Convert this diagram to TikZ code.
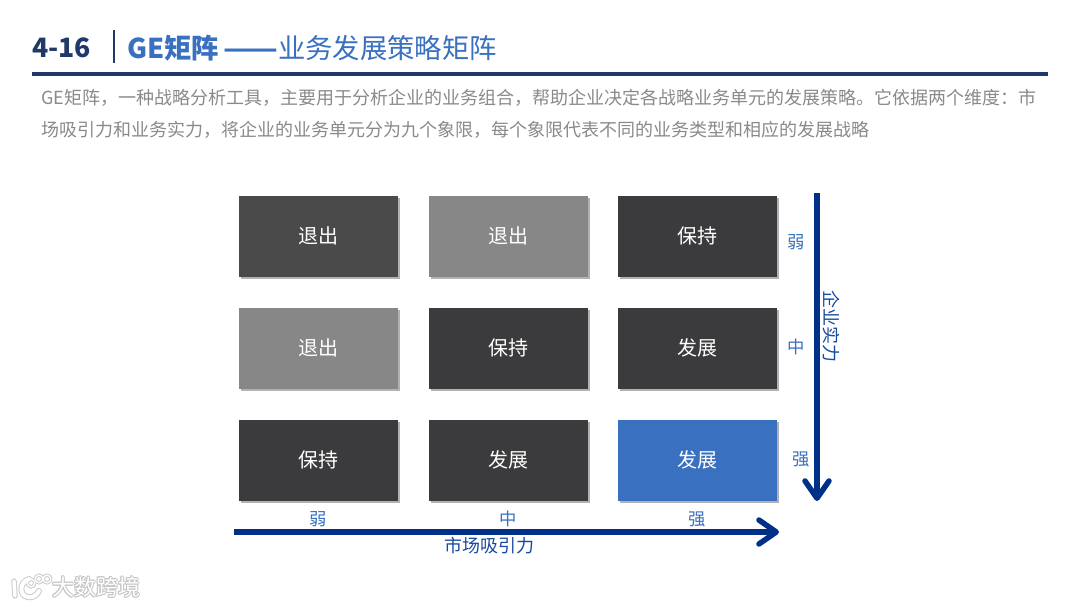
\documentclass[tikz,border=0pt]{standalone}
\usepackage{fontspec}
\setmainfont{Noto Sans CJK SC}
\usetikzlibrary{arrows.meta,shadows}
\definecolor{navy}{HTML}{1F3A68}
\definecolor{accent}{HTML}{3A70C0}
\definecolor{arrowblue}{HTML}{003087}
\definecolor{darkbox}{HTML}{3B3B3D}
\definecolor{midbox}{HTML}{4A4A4A}
\definecolor{greybox}{HTML}{878787}
\definecolor{bodygrey}{HTML}{8A8A8A}
\tikzset{
  cell/.style={minimum width=119.25pt,minimum height=60.75pt,inner sep=0pt,text=white,text height=12pt,text depth=1.7pt,font=\fontsize{15}{15}\selectfont,
     drop shadow={shadow xshift=1.3pt,shadow yshift=-1.3pt,fill=black,opacity=0.3}},
  tick/.style={text=accent,inner sep=0pt,font=\fontsize{13}{13}\selectfont},
  axislabel/.style={tick,text=arrowblue!60!accent,font=\fontsize{13.5}{13.5}\selectfont},
  axis/.style={draw=arrowblue,line width=4.1pt,-{Straight Barb[length=13pt,width=18pt,line width=4.1pt,round]}},
  intro/.style={anchor=west,inner sep=0pt,text=bodygrey,font=\fontsize{13.5}{13.5}\selectfont},
  wm/.style={inner sep=0pt,anchor=west,text=white,font=\fontsize{16.5}{16.5}\selectfont}
}
\begin{document}
\begin{tikzpicture}[x=0.75pt,y=-0.75pt]
\useasboundingbox (0,0) rectangle (1080,607);
\fill[white] (0,0) rectangle (1080,607);
% header
\node[inner sep=0pt,anchor=west,text=navy,font=\fontsize{20}{20}\selectfont\bfseries] (num) at (32,48) {4-16};
\coordinate (sepT) at (114,30); \coordinate (sepB) at (114,63);
\draw[navy,line width=2pt] (sepT) -- (sepB);
\node[inner sep=0pt,anchor=west,text=accent,font=\fontsize{20.5}{20.5}\selectfont] (title) at (127,48) {\textbf{GE矩阵}\hspace{3pt}\scalebox{1.17}[1]{\textbf{——}}业务发展策略矩阵};
\coordinate (ruleL) at (32,74); \coordinate (ruleR) at (1048,74);
\draw[navy,line width=2.3pt] (ruleL) -- (ruleR);
\node[intro] (l1) at (41,98) {GE矩阵，一种战略分析工具，主要用于分析企业的业务组合，帮助企业决定各战略业务单元的发展策略。它依据两个维度：市};
\node[intro] (l2) at (41,130) {场吸引力和业务实力，将企业的业务单元分为九个象限，每个象限代表不同的业务类型和相应的发展战略};
% cells
\node[cell,fill=midbox]  (c11) at (318.7,236.4) {退出};
\node[cell,fill=greybox] (c12) at (508.7,236.4) {退出};
\node[cell,fill=darkbox] (c13) at (697.7,236.4) {保持};
\node[cell,fill=greybox] (c21) at (318.7,348.4) {退出};
\node[cell,fill=darkbox] (c22) at (508.7,348.4) {保持};
\node[cell,fill=darkbox] (c23) at (697.7,348.4) {发展};
\node[cell,fill=darkbox] (c31) at (318.7,460.4) {保持};
\node[cell,fill=darkbox] (c32) at (508.7,460.4) {发展};
\node[cell,fill=accent]  (c33) at (697.7,460.4) {发展};
% axes
\coordinate (vS) at (817,193); \coordinate (vE) at (817,501);
\coordinate (hS) at (234,532); \coordinate (hE) at (779,532);
\draw[axis] (vS) -- (vE);
\draw[axis] (hS) -- (hE);
% ticks
\node[tick] (r1) at (796,242) {弱};
\node[tick] (r2) at (796,347) {中};
\node[tick] (r3) at (801,459) {强};
\node[tick] (b1) at (318,519) {弱};
\node[tick] (b2) at (508,519) {中};
\node[tick] (b3) at (697,519) {强};
\node[axislabel,rotate=-90] (yl) at (831,326) {企业实力};
\node[axislabel] (xl) at (489,546) {市场吸引力};
% watermark
\begin{scope}[line cap=round]
 \foreach \c/\w in {gray!40/1.5,white/0}{
 \draw[\c,line width=2.6pt+\w pt] (14,581) -- (15,596);
 \draw[\c,line width=3pt+\w pt] (29,579) .. controls (19,582) and (19,596) .. (28,597) .. controls (33,598) and (37,595) .. (39,591);
 \draw[\c,line width=1pt+\w pt] (31,583) circle [radius=3.8];
 \draw[\c,line width=1pt+\w pt] (39,579) circle [radius=3.8];
 \draw[\c,line width=1pt+\w pt] (47,579) circle [radius=3.8];
 }
\end{scope}
\foreach \dx/\dy in {-1/0,1/0,0/-1,0/1,-0.7/-0.7,0.7/0.7,-0.7/0.7,0.7/-0.7}{
  \node[wm,text=gray!45] at (52+\dx,587+\dy) {大数跨境};
}
\node[wm] (wmk) at (52,587) {大数跨境};
\end{tikzpicture}
\end{document}
